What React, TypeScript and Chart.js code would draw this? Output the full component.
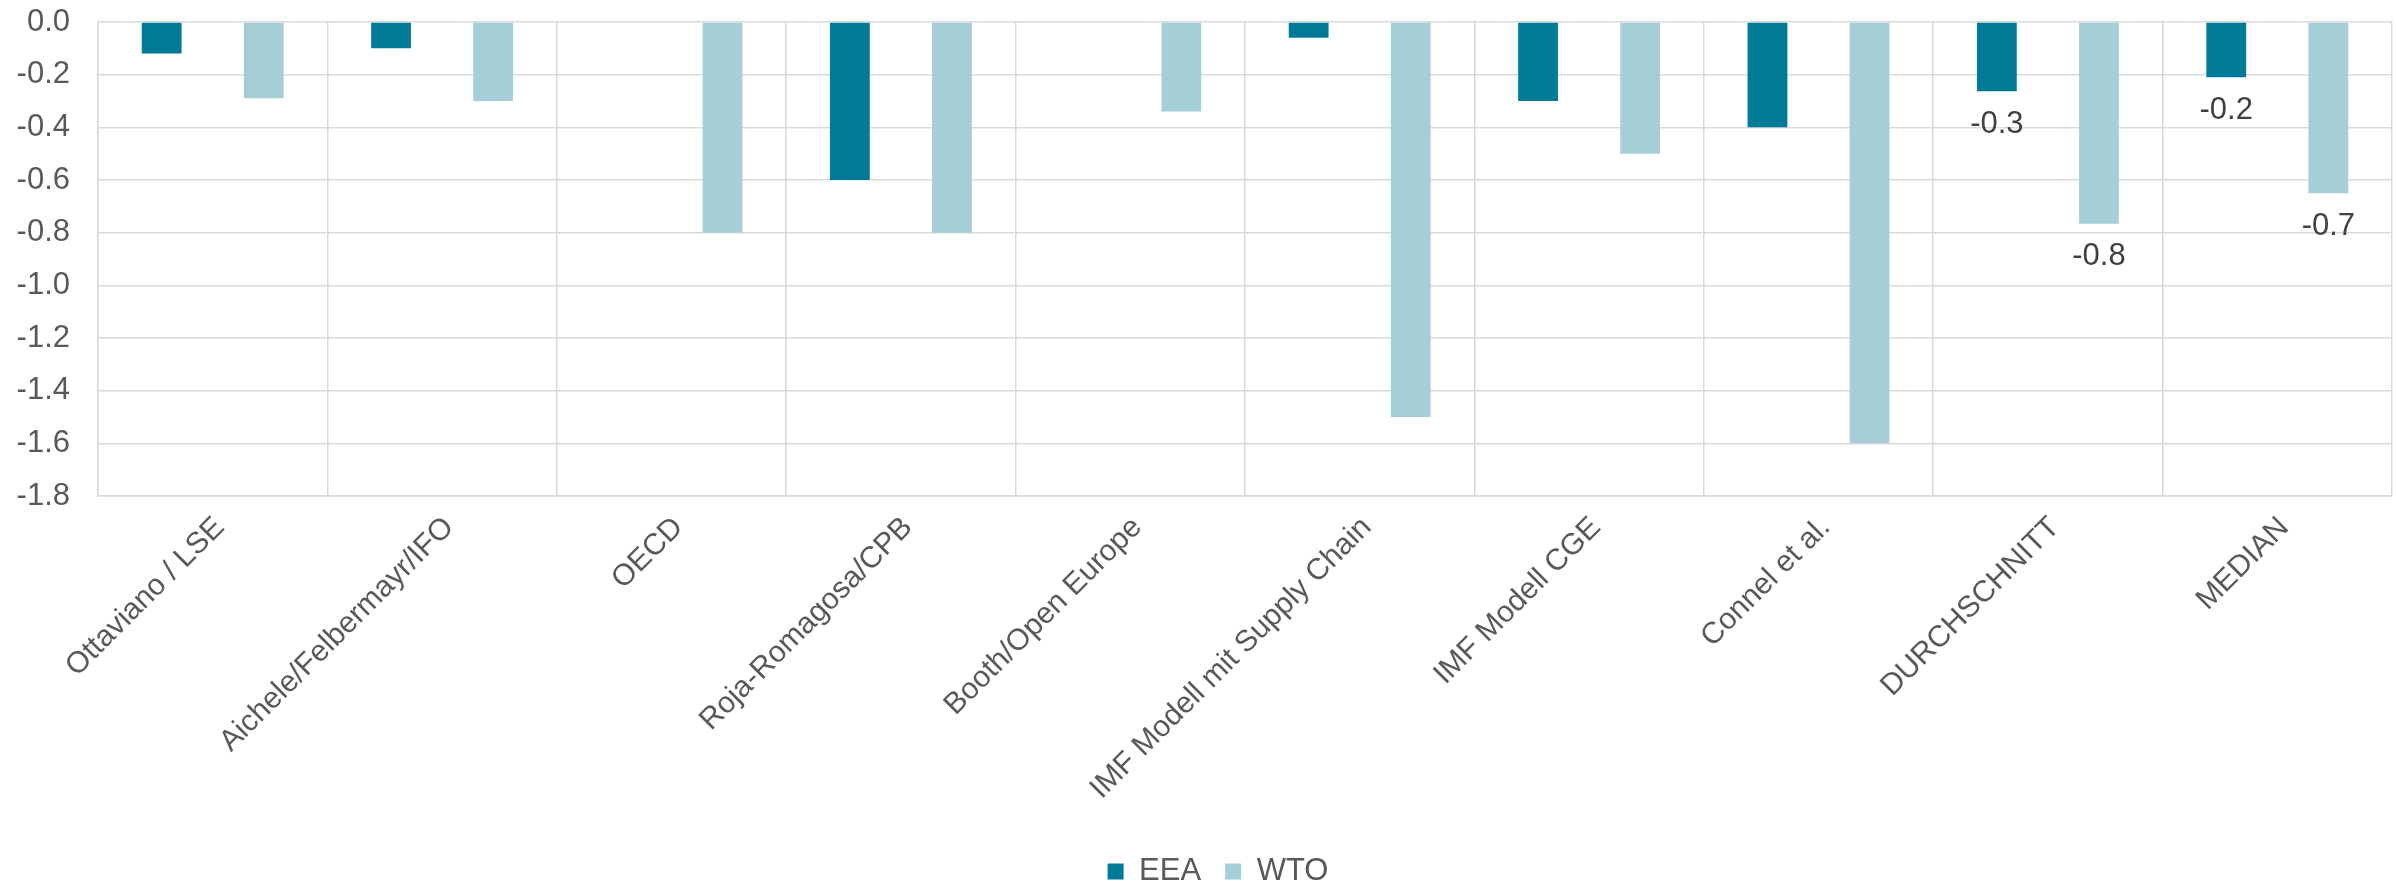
import React, { useEffect, useRef } from "react";
import { Chart, registerables } from "chart.js";

Chart.register(...registerables);

const categories = [
  "Ottaviano / LSE",
  "Aichele/Felbermayr/IFO",
  "OECD",
  "Roja-Romagosa/CPB",
  "Booth/Open Europe",
  "IMF Modell mit Supply Chain",
  "IMF Modell CGE",
  "Connel et al.",
  "DURCHSCHNITT",
  "MEDIAN",
];

const eeaValues: (number | null)[] = [-0.12, -0.1, null, -0.6, null, -0.06, -0.3, -0.4, -0.263, -0.21];
const wtoValues: (number | null)[] = [-0.29, -0.3, -0.8, -0.8, -0.34, -1.5, -0.5, -1.6, -0.766, -0.65];

const labeledIndices = [8, 9];

const yMin = -1.8;
const yMax = 0;
const yStep = 0.2;

const FONT = "'Liberation Sans', Arial, sans-serif";

const dataLabelPlugin = {
  id: "dataLabels",
  afterDatasetsDraw(chart: any) {
    const ctx = chart.ctx;
    ctx.save();
    ctx.font = `31px ${FONT}`;
    ctx.fillStyle = "#404040";
    ctx.textAlign = "center";
    ctx.textBaseline = "middle";
    chart.data.datasets.forEach((ds: any, di: number) => {
      const meta = chart.getDatasetMeta(di);
      labeledIndices.forEach((i) => {
        const v = ds.data[i];
        const el = meta.data[i];
        if (v == null || !el) return;
        ctx.fillText(v.toFixed(1), el.x, el.y + 33);
      });
    });
    ctx.restore();
  },
};

const legendShiftPlugin = {
  id: "legendShift",
  afterLayout(chart: any) {
    const lg = chart.legend;
    if (lg) {
      lg.left += 22;
      lg.right += 22;
    }
  },
};

export default function App() {
  const canvasRef = useRef<HTMLCanvasElement | null>(null);

  useEffect(() => {
    document.body.style.margin = "0";
    const canvas = canvasRef.current;
    if (!canvas) return;
    const chart = new Chart(canvas, {
      type: "bar",
      data: {
        labels: categories,
        datasets: [
          {
            label: "EEA",
            data: eeaValues,
            backgroundColor: "#007A96",
            categoryPercentage: 0.89,
            barPercentage: 0.39,
          },
          {
            label: "WTO",
            data: wtoValues,
            backgroundColor: "#A5CFD7",
            categoryPercentage: 0.89,
            barPercentage: 0.39,
          },
        ],
      },
      options: {
        responsive: false,
        animation: false,
        devicePixelRatio: 1,
        layout: { padding: { left: 0, right: 5, top: 22, bottom: -12 } },
        plugins: {
          legend: {
            position: "bottom",
            labels: {
              boxWidth: 16,
              boxHeight: 16,
              padding: 24,
              color: "#595959",
              font: { family: FONT, size: 31 },
            },
          },
          tooltip: { enabled: false },
        },
        scales: {
          x: {
            grid: { color: "#D9D9D9", lineWidth: 1.5, offset: true, drawTicks: false },
            border: { color: "#D9D9D9", width: 1.5 },
            ticks: {
              minRotation: 45,
              maxRotation: 45,
              autoSkip: false,
              padding: 14,
              labelOffset: 7,
              color: "#595959",
              font: { family: FONT, size: 30 },
            },
            afterFit(scale: any) {
              scale.height = 336;
            },
          },
          y: {
            min: yMin,
            max: yMax,
            grid: { color: "#D9D9D9", lineWidth: 1.5, drawTicks: false },
            border: { color: "#D9D9D9", width: 1.5 },
            ticks: {
              stepSize: yStep,
              padding: 28,
              color: "#595959",
              font: { family: FONT, size: 31 },
              callback: (v: any) => Number(v).toFixed(1),
            },
            afterFit(scale: any) {
              scale.width = 98;
              scale.paddingTop = 0;
              scale.paddingBottom = 0;
            },
          },
        },
      },
      plugins: [dataLabelPlugin, legendShiftPlugin],
    });
    return () => chart.destroy();
  }, []);

  return (
    <div style={{ width: 2397, height: 885 }}>
      <canvas ref={canvasRef} width={2397} height={885} style={{ display: "block" }} />
    </div>
  );
}
